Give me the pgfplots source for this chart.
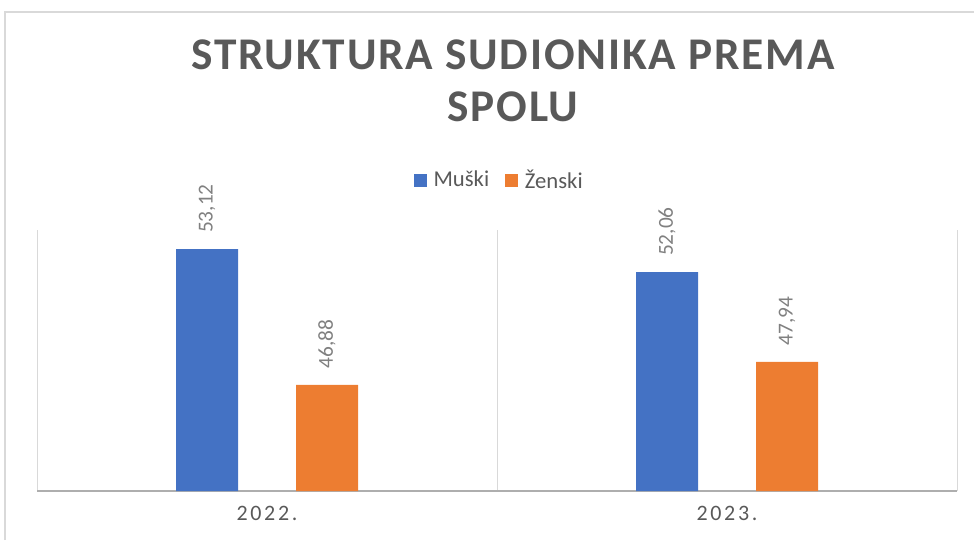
\documentclass[border=0pt]{standalone}
\usepackage{pgfplots}
\pgfplotsset{compat=1.18}
\usepackage{fontspec}
\setmainfont{Carlito}
\newfontfamily\titlefont[LetterSpace=4]{Carlito}
\newfontfamily\tickfont[LetterSpace=12]{Carlito}
\definecolor{blu}{HTML}{4472C4}
\definecolor{org}{HTML}{ED7D31}
\definecolor{txt}{HTML}{595959}
\definecolor{lbl}{HTML}{808080}
\definecolor{grd}{HTML}{D9D9D9}
\begin{document}
\begin{tikzpicture}
\begin{axis}[
  scale only axis, width=690pt, height=195.75pt,
  xmin=-0.5, xmax=1.5, ymin=42, ymax=54,
  ybar=43.5pt, bar width=46.5pt,
  axis line style={draw=none},
  major tick length=0pt,
  xtick={0,1}, xticklabels={2022.,2023.},
  xticklabel style={font=\tickfont\fontsize{16.5}{18}\selectfont, text=txt, yshift=-8pt},
  ytick=\empty,
  extra x ticks={-0.5,0.5,1.5}, extra x tick labels={},
  extra x tick style={grid=major, major grid style={grd, line width=0.75pt}},
  extra y ticks={42}, extra y tick labels={},
  extra y tick style={grid=major, major grid style={grd!80!black, line width=1.5pt}},
  /pgf/number format/assume math mode=true,
  nodes near coords={\pgfmathprintnumber[use comma,fixed,fixed zerofill,precision=2]{\pgfplotspointmeta}},
  nodes near coords style={rotate=90, anchor=west, inner xsep=12pt, text=lbl, font=\fontsize{16}{18}\selectfont},
  legend columns=2,
  legend style={at={(0.5,1)}, anchor=center, yshift=37.5pt, xshift=2pt, draw=none, fill=none,
    font=\fontsize{17}{20}\selectfont, text=txt,
    /tikz/every odd column/.append style={column sep=3pt},
    /tikz/every even column/.append style={column sep=10pt}},
  legend image code/.code={\fill[#1] (0pt,-4.875pt) rectangle (9.75pt,4.875pt);},
]
\addplot[fill=blu, draw=none] coordinates {(0,53.12) (1,52.06)};
\addplot[fill=org, draw=none] coordinates {(0,46.88) (1,47.94)};
\legend{Muški,Ženski}
\coordinate (O) at (rel axis cs:0,0);
\end{axis}
\begin{scope}[shift={(O)}, x=0.75pt, y=0.75pt]
% chart area border (top and left only, rest is cropped)
\draw[grd, line width=1pt] (-32,-49) -- (-32,479) -- (937,479);
% title
\node[anchor=base, text=txt, font=\titlefont\bfseries\fontsize{34}{39}\selectfont] at (476,421) {STRUKTURA SUDIONIKA PREMA};
\node[anchor=base, text=txt, font=\titlefont\bfseries\fontsize{34}{39}\selectfont] at (476,369) {SPOLU};
\pgfresetboundingbox
\useasboundingbox (-37,-49) rectangle (937,491);
\end{scope}
\end{tikzpicture}
\end{document}
